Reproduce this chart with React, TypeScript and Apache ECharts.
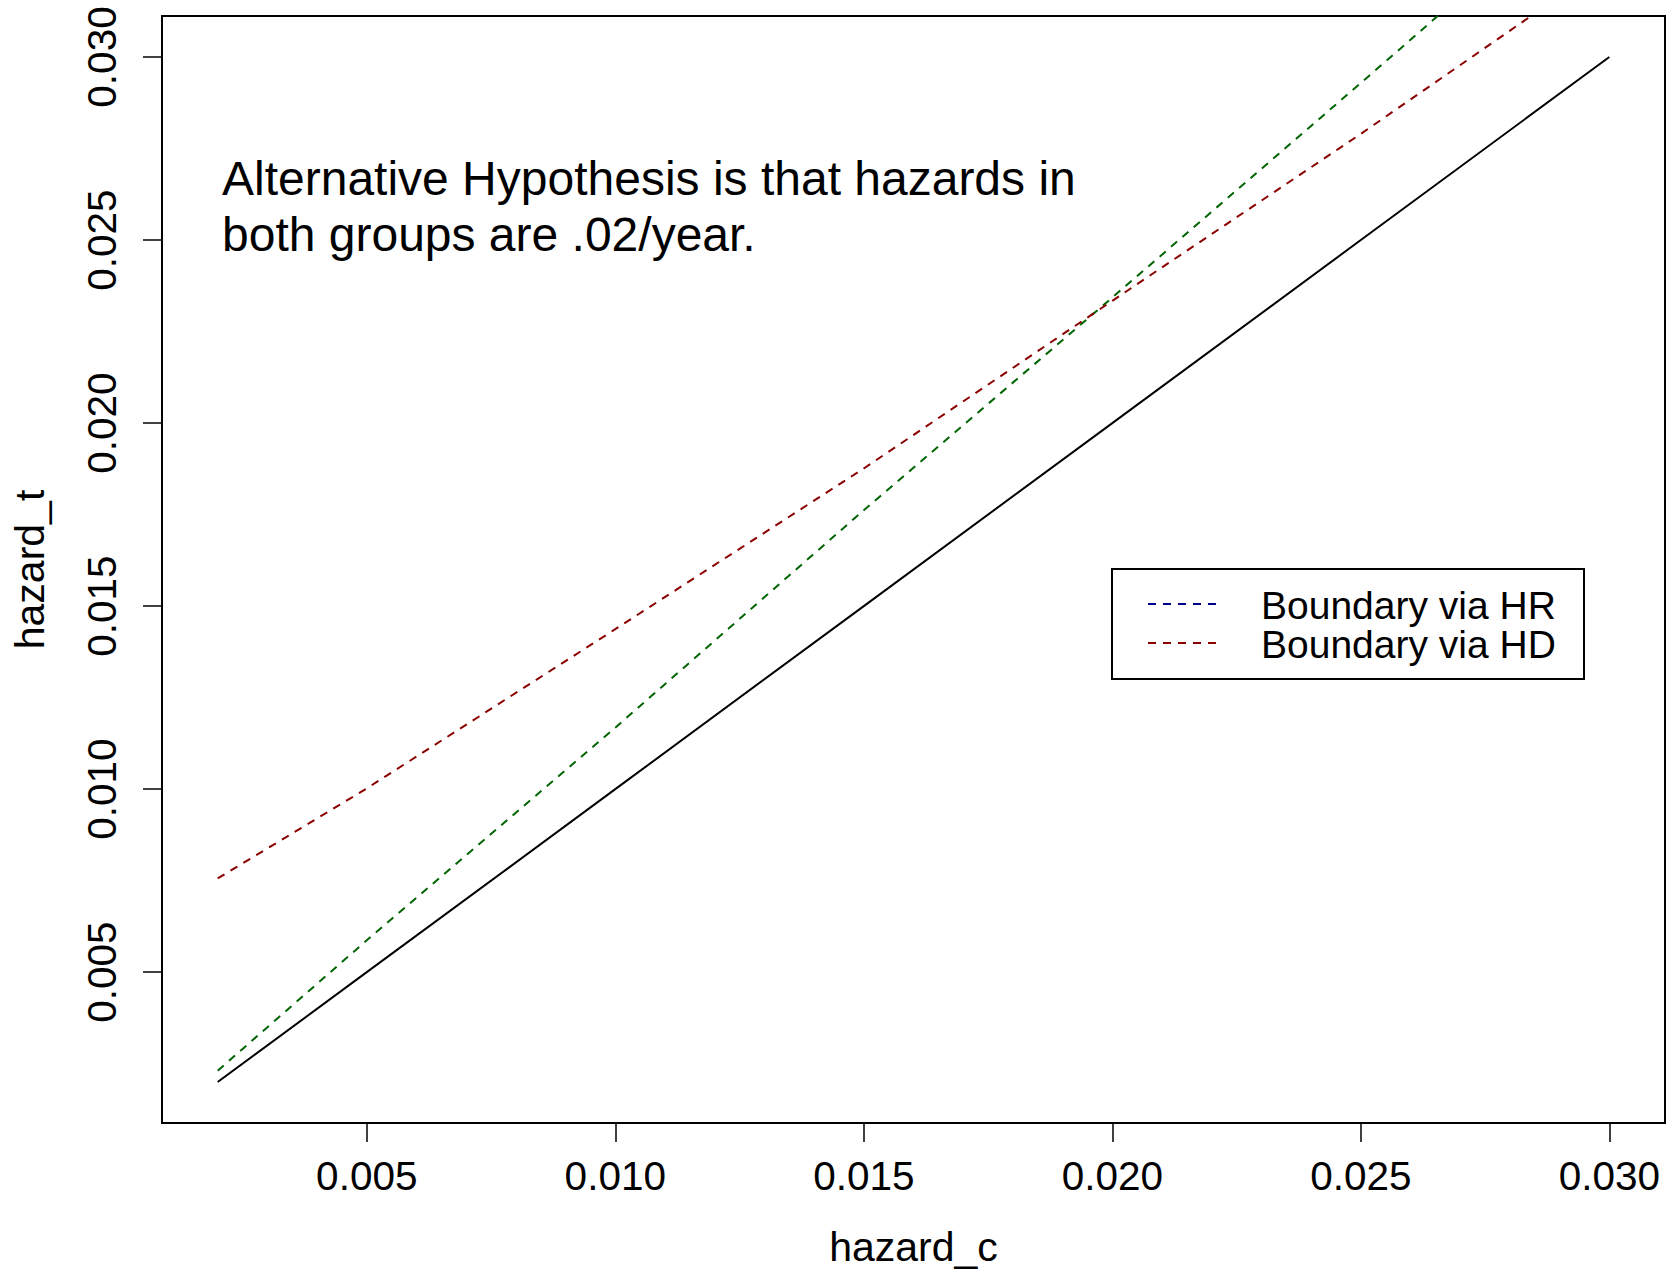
import React, { useEffect, useRef } from "react";
import * as echarts from "echarts";

const hazardC = [0.002, 0.005, 0.01, 0.015, 0.02, 0.025, 0.03];
const equalLine = [0.002, 0.005, 0.01, 0.015, 0.02, 0.025, 0.03];
const hrBoundary = [0.00231, 0.00587, 0.01168, 0.01762, 0.02343, 0.02929, 0.0352];
const hdBoundary = [0.00756, 0.01002, 0.01437, 0.01876, 0.02334, 0.0279, 0.0326];
const tickValues = [0.005, 0.01, 0.015, 0.02, 0.025, 0.03];
const legendLabels = ["Boundary via HR", "Boundary via HD"];
const legendColors = ["#00008B", "#8B0000"];
const noteLines = ["Alternative Hypothesis is that hazards in", "both groups are .02/year."];

const FONT = "'Liberation Sans', Arial, Helvetica, sans-serif";

export default function App() {
  const ref = useRef<HTMLDivElement>(null);
  useEffect(() => {
    document.body.style.margin = "0";
    if (!ref.current) return;
    const chart = echarts.init(ref.current, undefined, { renderer: "svg" });
    const pairs = (ys: number[]) => hazardC.map((x, i) => [x, ys[i]]);
    const axisCommon = {
      type: "value" as const,
      min: 0.00088,
      max: 0.03112,
      splitLine: { show: false },
      axisLine: { show: false },
      axisTick: {
        show: true,
        inside: false,
        length: 19,
        customValues: tickValues,
        lineStyle: { color: "#000", width: 1.5 },
      },
      nameTextStyle: { fontFamily: FONT, fontSize: 41, color: "#000" },
    };
    chart.setOption({
      animation: false,
      backgroundColor: "#fff",
      grid: {
        left: 162,
        top: 16,
        right: 7,
        bottom: 148,
        show: true,
        borderColor: "#000",
        borderWidth: 2,
        backgroundColor: "transparent",
        containLabel: false,
        outerBoundsMode: "none",
      },
      xAxis: {
        ...axisCommon,
        name: "hazard_c",
        nameLocation: "middle",
        nameGap: 103,
        axisLabel: {
          customValues: tickValues,
          formatter: (v: number) => v.toFixed(3),
          fontFamily: FONT,
          fontSize: 40.5,
          color: "#000",
          margin: 32,
        },
      },
      yAxis: {
        ...axisCommon,
        name: "hazard_t",
        nameLocation: "middle",
        nameGap: 112,
        nameRotate: 90,
        axisLabel: {
          customValues: tickValues,
          formatter: (v: number) => v.toFixed(3),
          fontFamily: FONT,
          fontSize: 40.5,
          color: "#000",
          rotate: 90,
          margin: 40,
        },
      },
      series: [
        {
          type: "line",
          data: pairs(equalLine),
          showSymbol: false,
          lineStyle: { color: "#000", width: 2 },
          clip: true,
          z: 3,
        },
        {
          type: "line",
          data: pairs(hrBoundary),
          showSymbol: false,
          lineStyle: { color: "#006400", width: 2, type: [8, 7] },
          clip: true,
          z: 3,
        },
        {
          type: "line",
          data: pairs(hdBoundary),
          showSymbol: false,
          lineStyle: { color: "#8B0000", width: 2, type: [8, 7] },
          clip: true,
          z: 3,
        },
      ],
      graphic: [
        ...noteLines.map((t, i) => ({
          type: "text",
          left: 222,
          top: 154 + i * 56,
          style: {
            text: t,
            fontFamily: FONT,
            fontSize: 48,
            fill: "#000",
          },
        })),
        {
          type: "rect",
          shape: { x: 1112, y: 569, width: 472, height: 110 },
          style: { fill: "#fff", stroke: "#000", lineWidth: 2 },
          z: 10,
        },
        ...legendLabels.map((t, i) => ({
          type: "line",
          shape: { x1: 1148, y1: 604 + i * 39, x2: 1221, y2: 604 + i * 39 },
          style: { stroke: legendColors[i], lineWidth: 2, lineDash: [8, 7] },
          z: 11,
        })),
        ...legendLabels.map((t, i) => ({
          type: "text",
          x: 1261,
          y: 605 + i * 39,
          style: {
            text: t,
            fontFamily: FONT,
            fontSize: 39,
            lineHeight: 39,
            fill: "#000",
            verticalAlign: "middle",
            align: "left",
          },
          z: 11,
        })),
      ],
    });
    return () => chart.dispose();
  }, []);
  return <div ref={ref} style={{ width: 1672, height: 1271 }} />;
}
